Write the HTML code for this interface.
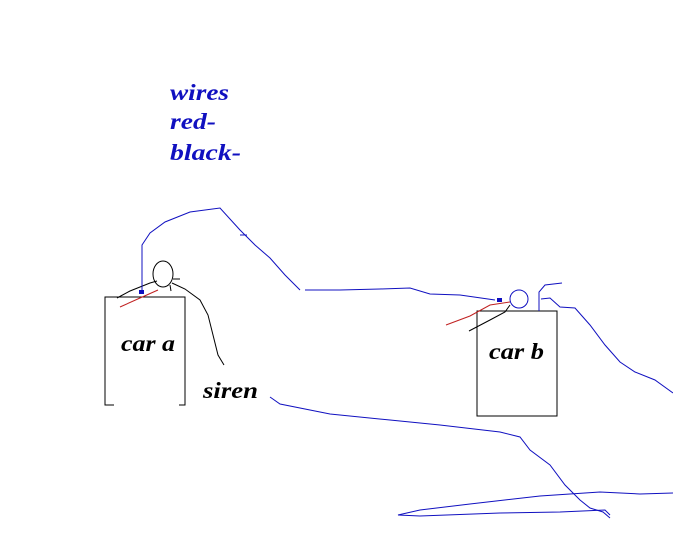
<!DOCTYPE html>
<html><head><style>
html,body{margin:0;padding:0;background:#fff;}
svg{display:block;}
text{font-family:"Liberation Serif",serif;font-style:italic;font-weight:bold;}
</style></head><body>
<svg width="673" height="559" viewBox="0 0 673 559" xmlns="http://www.w3.org/2000/svg">
<text x="170" y="100" font-size="23" fill="#1010c0" textLength="59" lengthAdjust="spacingAndGlyphs">wires</text>
<text x="170" y="129" font-size="23" fill="#1010c0" textLength="46" lengthAdjust="spacingAndGlyphs">red-</text>
<text x="170" y="160" font-size="23" fill="#1010c0" textLength="71" lengthAdjust="spacingAndGlyphs">black-</text>
<!-- car a -->
<g fill="none" stroke="#000" stroke-width="1">
<polyline points="114,405 105,405 105,297 185,297 185,405 179,405"/>
<ellipse cx="163" cy="274" rx="10" ry="13"/>
<line x1="173" y1="279" x2="180" y2="279"/>
<line x1="170" y1="285" x2="171" y2="291"/>
<polyline points="117,298 130,291 150,283 157,281"/>
<polyline points="172,283 185,289 200,300 208,315 213,335 218,355 224,365"/>
<!-- car b -->
<rect x="477" y="311" width="80" height="105"/>
<polyline points="469,331 490,320 505,312 510,305"/>
</g>
<polyline points="120,307 140,298 158,290" fill="none" stroke="#c02020" stroke-width="1"/>
<polyline points="446,325 470,316 490,305 510,302" fill="none" stroke="#c02020" stroke-width="1"/>
<circle cx="519" cy="299" r="9" fill="none" stroke="#1010c0" stroke-width="1"/>
<g fill="none" stroke="#1010c0" stroke-width="1">
<polyline points="142,293 142,245 150,233 165,222 190,212 220,208 240,230 255,245 270,258 285,275 300,290"/>
<line x1="240" y1="235" x2="247" y2="235"/>
<polyline points="305,290 340,290 380,289 410,288 430,294 460,295 495,300"/>
<polyline points="539,311 539,292 545,285 562,283"/>
<polyline points="541,299 550,298 560,307 575,308 590,325 605,345 620,362 635,372 655,380 673,393"/>
<polyline points="270,397 280,404 330,414 390,420 440,425 500,432 520,437 530,450 550,465 565,485 580,500 590,508 603,512 610,518"/>
<polyline points="673,493 640,494 600,492 540,496 470,504 420,510 398,515 420,516 500,513 560,512 605,510 610,515"/>
</g>
<rect x="497" y="298" width="5" height="4" fill="#1010c0"/>
<rect x="139" y="290" width="5" height="4" fill="#1010c0"/>
<text x="121" y="351" font-size="23" fill="#000" textLength="54" lengthAdjust="spacingAndGlyphs">car a</text>
<text x="489" y="359" font-size="23" fill="#000" textLength="55" lengthAdjust="spacingAndGlyphs">car b</text>
<text x="203" y="398" font-size="23" fill="#000" textLength="55" lengthAdjust="spacingAndGlyphs">siren</text>
</svg>
</body></html>
